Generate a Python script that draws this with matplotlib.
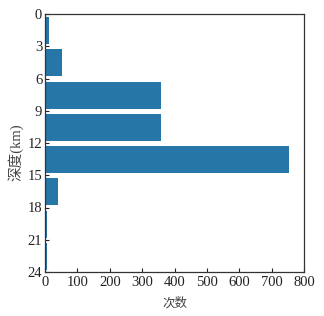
import matplotlib
matplotlib.use("Agg")
import matplotlib.pyplot as plt
import numpy as np

plt.rcParams['font.family'] = ['Liberation Serif', 'Noto Sans CJK SC']

bin_starts = [0, 3, 6, 9, 12, 15, 18, 21]
counts = [13, 52, 359, 357, 753, 41, 7, 5]
yticks = [0, 3, 6, 9, 12, 15, 18, 21, 24]
xticks = [0, 100, 200, 300, 400, 500, 600, 700, 800]

fig = plt.figure(figsize=(3.24, 3.16), dpi=100)
ax = fig.add_axes([45/324, 1-272/316, 259/324, 258/316])

ax.barh(np.array(bin_starts) + 0.3, counts, height=2.5, align='edge', color='#2676a8')

ax.set_ylim(24, 0)
ax.set_xlim(0, 800)
ax.set_yticks(yticks)
ax.set_xticks(xticks)
ax.tick_params(direction='in', length=3, width=0.8, labelsize=10.5, pad=3, colors='#222222')
ax.tick_params(axis='y', pad=2)
for s in ax.spines.values():
    s.set_linewidth(0.9)
    s.set_color('#333333')
ax.set_xlabel('次数', fontsize=9, labelpad=5, family='Noto Sans CJK SC', color='#444444')
ax.set_ylabel('深度(km)', fontsize=10.5, color='#444444')
ax.yaxis.set_label_coords(-0.083, 0.465)

fig.savefig('out.png', dpi=100)
